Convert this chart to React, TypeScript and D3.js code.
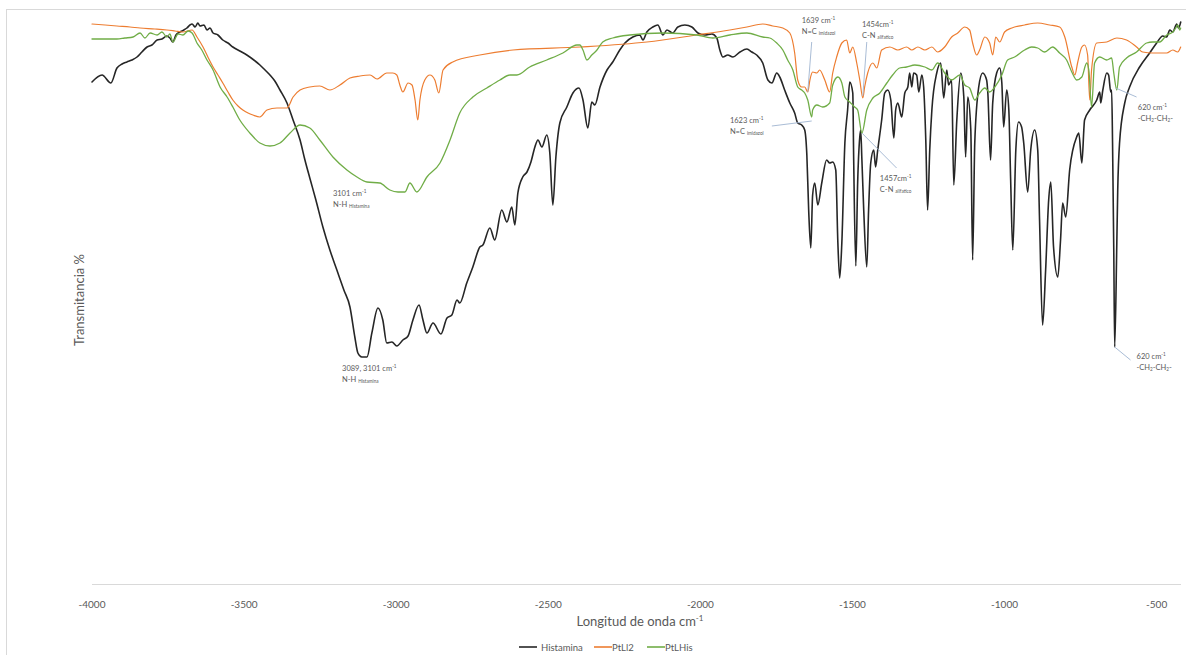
import React from "react";
import * as d3 from "d3";

// ---------- DATA ----------
const xTicks = [-4000, -3500, -3000, -2500, -2000, -1500, -1000, -500];

const histaminaWn = [
  -4000, -3967, -3938, -3918, -3901, -3885, -3869, -3852, -3836, -3819, -3803, -3786, -3770, -3754, -3744, -3734, -3724,
  -3711, -3698, -3688, -3678, -3671, -3661, -3652, -3645, -3632, -3622, -3612, -3602, -3586, -3570, -3553, -3537, -3514,
  -3491, -3468, -3448, -3431, -3415, -3399, -3382, -3359, -3339, -3316, -3300, -3284, -3264, -3241, -3218, -3195, -3172,
  -3152, -3136, -3126, -3113, -3096, -3080, -3060, -3044, -3031, -3014, -2998, -2978, -2961, -2945, -2925, -2912, -2899,
  -2879, -2853, -2833, -2817, -2800, -2791, -2768, -2748, -2725, -2715, -2692, -2676, -2653, -2636, -2620, -2610, -2600,
  -2584, -2570, -2557, -2544, -2534, -2521, -2505, -2495, -2485, -2475, -2462, -2439, -2419, -2399, -2386, -2370, -2357,
  -2347, -2330, -2307, -2288, -2265, -2248, -2222, -2199, -2189, -2176, -2156, -2140, -2123, -2110, -2091, -2074, -2051,
  -2028, -2008, -1985, -1962, -1946, -1936, -1926, -1910, -1893, -1870, -1847, -1831, -1815, -1795, -1778, -1765, -1749,
  -1739, -1723, -1706, -1690, -1680, -1667, -1657, -1650, -1644, -1637, -1631, -1624, -1614, -1601, -1585, -1575, -1565,
  -1555, -1548, -1542, -1535, -1525, -1516, -1509, -1499, -1496, -1489, -1483, -1476, -1473, -1469, -1463, -1453, -1447,
  -1440, -1430, -1424, -1417, -1404, -1394, -1384, -1374, -1364, -1358, -1351, -1338, -1328, -1318, -1312, -1305, -1299,
  -1289, -1282, -1272, -1266, -1259, -1253, -1246, -1239, -1223, -1210, -1200, -1190, -1184, -1174, -1167, -1157, -1144,
  -1134, -1128, -1121, -1111, -1105, -1098, -1085, -1072, -1059, -1055, -1046, -1039, -1026, -1016, -1009, -1003, -993,
  -986, -980, -973, -963, -954, -944, -937, -924, -914, -901, -891, -885, -875, -865, -855, -848, -839, -825, -816, -809,
  -799, -786, -763, -756, -746, -737, -720, -697, -687, -684, -677, -664, -658, -651, -648, -645, -641, -638, -631, -628,
  -622, -605, -589, -556, -523, -500, -480, -467, -457, -447, -434, -428, -421,
];
const histaminaT = [
  87.6, 89, 87.4, 90.4, 91.2, 91.6, 92, 92.6, 93.6, 94.6, 95, 96, 96.2, 96.8, 96.4, 95.6, 97,
  97.6, 98, 98.4, 99, 99.2, 98.6, 99.4, 98.8, 99, 98, 98.4, 97.4, 97, 96, 95.4, 94.6, 93.8,
  93, 92, 91, 90, 89, 87.8, 86, 83.4, 80, 76, 72, 68.4, 64, 58.6, 54, 50, 46,
  42.6, 36.6, 33.4, 32.6, 32.6, 37.4, 42.4, 40, 35.4, 35.6, 34.8, 36, 36.8, 40, 43, 40, 37.4,
  39.4, 37.2, 40.4, 41, 44, 43.4, 47.4, 50.6, 54.6, 55, 58.4, 56, 62, 59.6, 62.6, 59, 65.4,
  68.6, 69.6, 71.6, 74.6, 76, 74.6, 77, 73.4, 63, 72.6, 79.4, 82.6, 85.4, 86.4, 84, 78.4, 83.6,
  83, 86.6, 90, 91.6, 94, 95.4, 96.6, 97, 96, 97.6, 98.6, 99, 97, 98, 97.4, 98.6, 99,
  98.6, 97.4, 97, 97.2, 96.4, 94, 92.6, 93, 92.6, 93.6, 94.2, 93.6, 93, 91.4, 88, 87.4, 89.4,
  88.6, 86, 83.4, 81.4, 79.4, 79, 78, 73, 62, 54.4, 65, 67.4, 63, 67.4, 72, 71.4, 71.6,
  70, 55.4, 48.4, 55.4, 75.4, 82, 87.6, 85.4, 72, 50.8, 67.4, 76.6, 78, 72, 62, 50.6, 62,
  71.4, 74, 70.6, 74, 80, 85.4, 86, 84, 76.4, 82, 83.4, 80.6, 85.4, 86.6, 89.4, 86.6, 89.4,
  89, 85.6, 89, 86.6, 76, 62, 74, 82, 89.4, 91.4, 84.4, 90, 87, 88, 67, 80, 89.4,
  84.6, 72.6, 84.6, 78, 52, 75.4, 86.6, 89.4, 88, 85.4, 72, 83.4, 89.4, 90.4, 87.4, 78.6, 86,
  82, 68, 54, 74, 79.6, 78.6, 75.4, 65.6, 74, 78, 74, 60, 39, 50, 64, 67.6, 54.6, 48.6, 56, 63.4,
  60.6, 70, 76.6, 77.4, 71.4, 80, 82, 84, 85.6, 83.4, 86, 89.4, 89, 85.6, 86, 75.4, 54, 34.6, 55.4, 66,
  75.4, 83.4, 86.6, 90.6, 93.4, 95.4, 96.8, 96.6, 98, 97.6, 99.2, 98.4, 99.6,
];

const ptll2Wn = [
  -4000, -3957, -3918, -3875, -3842, -3793, -3754, -3727, -3701, -3671, -3655, -3635, -3619, -3602, -3586, -3570, -3553,
  -3537, -3520, -3504, -3487, -3471, -3448, -3425, -3392, -3359, -3339, -3316, -3284, -3251, -3218, -3185, -3152, -3119,
  -3086, -3063, -3031, -3011, -2998, -2988, -2978, -2961, -2948, -2938, -2929, -2922, -2906, -2889, -2873, -2860, -2846,
  -2814, -2725, -2616, -2396, -2176, -2012, -1903, -1847, -1795, -1762, -1729, -1706, -1690, -1680, -1667, -1657, -1647,
  -1640, -1631, -1617, -1608, -1591, -1575, -1565, -1552, -1535, -1519, -1509, -1499, -1486, -1476, -1466, -1460, -1450,
  -1433, -1420, -1404, -1377, -1351, -1322, -1305, -1285, -1262, -1239, -1220, -1197, -1174, -1154, -1131, -1115, -1105,
  -1092, -1082, -1065, -1049, -1039, -1029, -1016, -1000, -976, -934, -891, -852, -819, -802, -779, -769, -760, -746,
  -737, -727, -720, -714, -697, -664, -631, -599, -566, -546, -513, -467, -447, -431, -421,
];
const ptll2T = [
  99.2, 99, 98.8, 98.6, 98.4, 98.2, 98, 97.8, 97.6, 98, 96.6, 94.6, 92.6, 90.6, 89, 87.4, 85.6,
  84, 82.8, 82, 81.4, 81, 80.6, 82, 82.4, 82.4, 84.6, 86, 86.6, 86.8, 86, 87, 88.4, 88.8,
  89, 88.2, 89.4, 89.4, 89, 87, 85.6, 87.4, 87, 84, 80, 84, 88, 89, 88, 85.4, 90,
  91.6, 93, 94, 94.6, 95.6, 97, 98, 98.6, 99.2, 98.8, 98.4, 97.4, 93.4, 88, 86.6, 86.6, 85.6,
  88, 89.6, 89.4, 90, 88, 85.6, 89.4, 92.6, 95.4, 96, 93.4, 94.6, 91.4, 88, 84.4, 86.6, 89.4,
  91.4, 90.4, 94, 94.6, 94, 94.6, 94, 94.6, 94, 94.6, 93.6, 94.6, 96.6, 97.4, 98.6, 98, 95.4,
  93, 94, 96.6, 95.4, 93, 96.6, 95.6, 97.6, 98.4, 99, 99.4, 99, 98.6, 96.6, 90.6, 89, 91.4, 94.6,
  95, 93, 84, 90, 95.4, 95.6, 96.4, 96, 94.6, 93.6, 93.4, 93.4, 94, 93.6, 94.6,
];

const ptlhisWn = [
  -4000, -3918, -3892, -3865, -3842, -3826, -3809, -3786, -3770, -3754, -3744, -3734, -3717, -3701, -3684, -3671, -3655,
  -3639, -3622, -3602, -3579, -3556, -3537, -3514, -3481, -3448, -3415, -3382, -3349, -3316, -3284, -3251, -3208, -3162,
  -3129, -3096, -3054, -3021, -2994, -2971, -2955, -2932, -2899, -2856, -2823, -2791, -2748, -2702, -2659, -2626, -2603,
  -2561, -2505, -2452, -2406, -2396, -2386, -2373, -2357, -2340, -2321, -2288, -2232, -2123, -2012, -1959, -1903, -1847,
  -1795, -1772, -1749, -1729, -1713, -1696, -1680, -1667, -1657, -1647, -1634, -1631, -1617, -1598, -1575, -1565, -1548,
  -1535, -1525, -1509, -1493, -1483, -1469, -1453, -1433, -1410, -1387, -1368, -1345, -1322, -1295, -1262, -1239, -1220,
  -1197, -1174, -1147, -1131, -1115, -1098, -1082, -1065, -1049, -1032, -1009, -990, -967, -934, -911, -891, -868, -842,
  -819, -796, -779, -763, -746, -730, -723, -714, -704, -687, -664, -648, -641, -631, -622, -599, -566, -533, -513, -490,
  -467, -447, -437, -431, -424, -421,
];
const ptlhisT = [
  96.2, 96.2, 96.4, 96.6, 97.4, 96.4, 97.4, 97, 97.6, 96.6, 97.2, 95.6, 97.2, 97, 97.8, 97.4, 95.4,
  94, 92, 90, 86.6, 84.6, 82.6, 80, 77.4, 75.4, 74.8, 75.4, 77.4, 79, 78.4, 76, 72.6, 70,
  68.6, 67.6, 67.4, 66, 65.6, 65.6, 67.4, 65.6, 68.6, 71.4, 76, 81.4, 84.6, 86.4, 88, 89, 89,
  90.6, 92, 93.4, 95, 95, 94, 92, 93, 94, 95.6, 96.4, 97, 97.4, 97, 96.4, 97, 97.4,
  96.6, 96.4, 95.4, 94, 92, 90, 86.6, 86, 85.4, 84, 80.6, 82, 83, 82.6, 83.4, 87, 88.6,
  87.4, 84.6, 83.6, 82.6, 82, 77.4, 82, 84.4, 85.4, 87.4, 89, 90.4, 90.6, 91, 90.6, 90, 91.4,
  89.4, 88, 89, 87, 86.4, 84, 85.4, 86.4, 85.6, 86.6, 89, 92, 92.6, 94, 94.6, 94.4, 93.6, 94.6,
  93.4, 92, 89.6, 88, 88.6, 91.4, 90, 82.6, 91.4, 92.6, 92, 92.4, 89.4, 86, 90.6, 92.4, 93.6, 95.4, 95.6, 95.6,
  97, 97.6, 98.4, 99, 98, 98.4,
];

const seriesNames = ["Histamina", "PtLl2", "PtLHis"];
const seriesColors = ["#262626", "#ED7D31", "#70AD47"];
const seriesWidths = [1.6, 1.2, 1.3];

type Part = { s: string; sup?: boolean; sub?: boolean };
type Note = { wn: number; t: number; lines: Part[][]; leader?: [number, number, number, number] };

const notes: Note[] = [
  { wn: -3208, t: 64.8, lines: [[{ s: "3101 cm" }, { s: "-1", sup: true }], [{ s: "N-H " }, { s: "Histamina", sub: true }]] },
  { wn: -3178, t: 29.8, lines: [[{ s: "3089, 3101 cm" }, { s: "-1", sup: true }], [{ s: "N-H " }, { s: "Histamina", sub: true }]] },
  {
    wn: -1903, t: 79.4, lines: [[{ s: "1623 cm" }, { s: "-1", sup: true }], [{ s: "N=C " }, { s: "imidazol", sub: true }]],
    leader: [-1765, 78.8, -1634, 79.8],
  },
  {
    wn: -1667, t: 99.4, lines: [[{ s: "1639 cm" }, { s: "-1", sup: true }], [{ s: "N=C " }, { s: "imidazol", sub: true }]],
    leader: [-1634, 95.6, -1647, 85.6],
  },
  {
    wn: -1469, t: 98.6, lines: [[{ s: "1454cm" }, { s: "-1", sup: true }], [{ s: "C-N " }, { s: "alifatico", sub: true }]],
    leader: [-1453, 95.6, -1466, 84.8],
  },
  {
    wn: -1410, t: 67.8, lines: [[{ s: "1457cm" }, { s: "-1", sup: true }], [{ s: "C-N " }, { s: "alifatico", sub: true }]],
    leader: [-1469, 77.4, -1355, 70.4],
  },
  {
    wn: -562, t: 82, lines: [[{ s: "620 cm" }, { s: "-1", sup: true }], [{ s: "-CH" }, { s: "2", sub: true }, { s: "-CH" }, { s: "2", sub: true }, { s: "-" }]],
    leader: [-635, 86.4, -566, 84.6],
  },
  {
    wn: -566, t: 32.2, lines: [[{ s: "620 cm" }, { s: "-1", sup: true }], [{ s: "-CH" }, { s: "2", sub: true }, { s: "-CH" }, { s: "2", sub: true }, { s: "-" }]],
    leader: [-638, 34.6, -586, 32],
  },
];

// ---------- LAYOUT ----------
const W = 1186;
const H = 655;
const FONT = "Lato, 'Open Sans', 'Liberation Sans', sans-serif";
const TXT = "#595959";

const x = d3.scaleLinear().domain([-4000, -420]).range([92, 1181]);
const y = d3.scaleLinear().domain([-12.8, 100]).range([584, 20]);

function RichText({ px, py, parts, size }: { px: number; py: number; parts: Part[]; size: number }) {
  let offset = 0;
  const kids = parts.map((p, i) => {
    const target = p.sup ? -size * 0.4 : p.sub ? size * 0.15 : 0;
    const dy = target - offset;
    offset = target;
    return (
      <tspan key={i} dy={dy} fontSize={p.sup || p.sub ? size * 0.62 : size}>
        {p.s}
      </tspan>
    );
  });
  return (
    <text x={px} y={py} fontFamily={FONT} fill={TXT} fontSize={size}>
      {kids}
    </text>
  );
}

export default function App() {
  const wnSets = [histaminaWn, ptll2Wn, ptlhisWn];
  const tSets = [histaminaT, ptll2T, ptlhisT];
  const line = d3
    .line<[number, number]>()
    .x((d) => x(d[0]))
    .y((d) => y(d[1]))
    .curve(d3.curveMonotoneX);

  const paths = wnSets.map((wns, i) => line(wns.map((w, j) => [w, tSets[i][j]] as [number, number])) || "");

  const legendItems = [
    { x0: 519, tx: 541 },
    { x0: 594, tx: 612 },
    { x0: 647, tx: 665 },
  ];

  return (
    <svg width={W} height={H} style={{ position: "absolute", left: 0, top: 0, background: "#fff" }}>
      <rect x={6.5} y={9.5} width={1300} height={800} fill="#fff" stroke="#d9d9d9" strokeWidth={1} />
      {/* x axis line */}
      <line x1={x(-4000)} x2={x(-420)} y1={584.5} y2={584.5} stroke="#d9d9d9" strokeWidth={1} />
      {xTicks.map((v) => (
        <text key={v} x={x(v)} y={608} textAnchor="middle" fontFamily={FONT} fontSize={10} fill={TXT}>
          {v}
        </text>
      ))}
      {/* axis titles */}
      <text x={640} y={626} textAnchor="middle" fontFamily={FONT} fontSize={13} fill={TXT}>
        Longitud de onda cm
        <tspan dy={-5} fontSize={8}>
          -1
        </tspan>
      </text>
      <text
        transform={`translate(84,300) rotate(-90)`}
        textAnchor="middle"
        fontFamily={FONT}
        fontSize={13}
        fill={TXT}
      >
        Transmitancia %
      </text>

      {/* series */}
      <g fill="none" strokeLinejoin="round" strokeLinecap="round">
        {paths.map((d, i) => (
          <path key={i} d={d} stroke={seriesColors[i]} strokeWidth={seriesWidths[i]} />
        ))}
      </g>

      {/* annotations */}
      {notes.map((n, i) => (
        <g key={i}>
          {n.leader && (
            <line
              x1={x(n.leader[0])}
              y1={y(n.leader[1])}
              x2={x(n.leader[2])}
              y2={y(n.leader[3])}
              stroke="#9fb4d0"
              strokeWidth={0.9}
            />
          )}
          {n.lines.map((ln, k) => (
            <RichText key={k} px={x(n.wn)} py={y(n.t) + k * 11} parts={ln} size={7.5} />
          ))}
        </g>
      ))}

      {/* legend */}
      {seriesNames.map((name, i) => (
        <g key={name}>
          <line
            x1={legendItems[i].x0}
            x2={legendItems[i].x0 + 18}
            y1={647}
            y2={647}
            stroke={seriesColors[i]}
            strokeWidth={1.6}
          />
          <text x={legendItems[i].tx} y={650.5} fontFamily={FONT} fontSize={9.5} fill={TXT}>
            {name}
          </text>
        </g>
      ))}
    </svg>
  );
}
